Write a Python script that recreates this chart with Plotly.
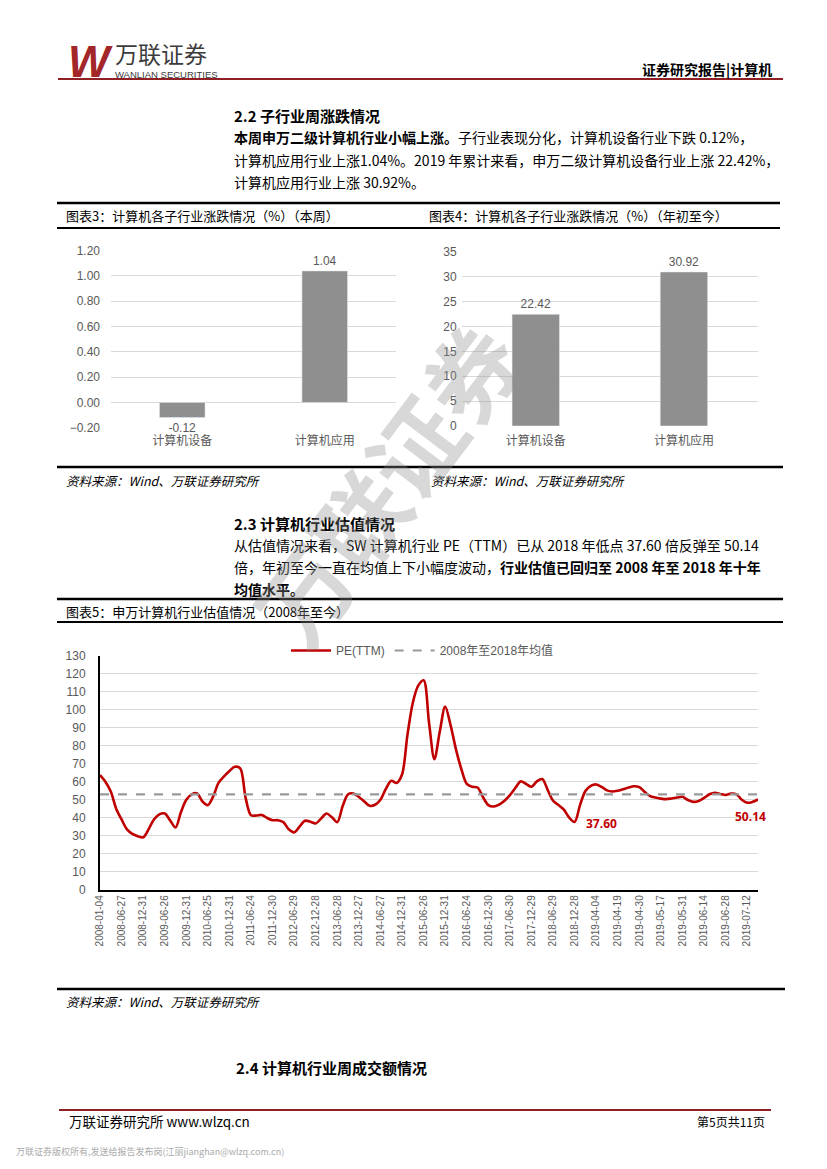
import plotly.graph_objects as go

W, H = 827, 1169
PAGE_OFFSET = 8   # the page body margin shifts the figure; positions below are page pixels

# ---------------- data ----------------
sub_industries = ["计算机设备", "计算机应用"]
weekly_change = [-0.12, 1.04]          # 图表3 本周 (%)
ytd_change = [22.42, 30.92]            # 图表4 年初至今 (%)

pe_tick_labels = [
    "2008-01-04", "2008-06-27", "2008-12-31", "2009-06-26", "2009-12-31",
    "2010-06-25", "2010-12-31", "2011-06-24", "2011-12-30", "2012-06-29",
    "2012-12-28", "2013-06-28", "2013-12-27", "2014-06-27", "2014-12-31",
    "2015-06-26", "2015-12-31", "2016-06-24", "2016-12-30", "2017-06-30",
    "2017-12-29", "2018-06-29", "2018-12-28", "2019-04-04", "2019-04-19",
    "2019-04-30", "2019-05-17", "2019-05-31", "2019-06-14", "2019-06-28",
    "2019-07-12",
]
samples_per_label = 4
pe_ttm = [
    63.7, 60, 54.5, 45, 39, 33.5, 31, 29.7, 29, 33.5, 39, 41.8,
    42.3, 38.5, 34.5, 43, 50, 53, 53.5, 49, 47, 52, 59.5, 63,
    66, 68.3, 67.5, 51, 41.3, 41.2, 41.5, 39.8, 38.6, 38.6, 37.5, 33.5,
    31.8, 35, 38.3, 37.7, 36.8, 39.5, 42.3, 40.2, 37.5, 46.5, 53, 53.5,
    51.5, 49, 46.6, 47.2, 50, 56, 60.5, 59.3, 64, 86, 104, 113.5,
    116.5, 93, 72.5, 88, 101.8, 91.5, 78, 67, 58.8, 57.2, 56.8, 51.5,
    47, 46.2, 47.3, 49.4, 52.5, 56.5, 60.2, 58.8, 57.2, 60.2, 61.5, 55.5,
    49.5, 47, 44.5, 40, 37.6, 47, 54.8, 57.7, 58.5, 57.1, 55.2, 54.6,
    55, 55.8, 56.8, 57.5, 57, 54.3, 52, 51.2, 50.6, 50.3, 50.7, 51.2,
    51.6, 49.8, 48.8, 49.3, 51, 53, 53.9, 53.2, 52.6, 53.4, 53, 50,
    48.3, 48.8, 50.14,
]
pe_mean_2008_2018 = 53.0
pe_low_2018 = 37.6
pe_latest = 50.14

# ---------------- helpers ----------------
def px(x):
    return (x - PAGE_OFFSET) / W

def py(y):
    return 1 - (y - PAGE_OFFSET) / H

CJK = "Noto Sans CJK SC"
CHART_FONT = "Liberation Sans, Noto Sans CJK SC"
GRAY_TXT = "#595959"
GRID = "#D9D9D9"
BAR = "#8F8F8F"
RED = "#C00000"

fig = go.Figure()

# ---------- 图表3 ----------
fig.add_trace(go.Bar(
    x=sub_industries, y=weekly_change, marker_color=BAR,
    texttemplate="%{y:.2f}", textposition="outside", cliponaxis=False,
    textfont=dict(size=12, color=GRAY_TXT, family=CHART_FONT),
    xaxis="x", yaxis="y", showlegend=False,
))
# ---------- 图表4 ----------
fig.add_trace(go.Bar(
    x=sub_industries, y=ytd_change, marker_color=BAR,
    texttemplate="%{y:.2f}", textposition="outside", cliponaxis=False,
    textfont=dict(size=12, color=GRAY_TXT, family=CHART_FONT),
    xaxis="x2", yaxis="y2", showlegend=False,
))
# ---------- 图表5 ----------
pe_x = [i / samples_per_label for i in range(len(pe_ttm))]
fig.add_trace(go.Scatter(
    x=pe_x, y=pe_ttm, mode="lines", name="PE(TTM)",
    line=dict(color=RED, width=2.6, shape="spline", smoothing=0.9),
    xaxis="x3", yaxis="y3",
))
fig.add_trace(go.Scatter(
    x=[pe_x[0], pe_x[-1]], y=[pe_mean_2008_2018, pe_mean_2008_2018],
    mode="lines", name="2008年至2018年均值",
    line=dict(color="#999999", width=2.2, dash="dash"),
    xaxis="x3", yaxis="y3",
))

low_i = max(i for i, v in enumerate(pe_ttm) if v == pe_low_2018)
annotations = [
    dict(x=pe_x[low_i], y=pe_low_2018, xref="x3", yref="y3", text="<b>%.2f</b>" % pe_low_2018,
         showarrow=False, xshift=27, yshift=-2,
         font=dict(size=12, color=RED, family="Open Sans")),
    dict(x=pe_x[-1], y=pe_latest, xref="x3", yref="y3", text="<b>%.2f</b>" % pe_latest,
         showarrow=False, xshift=-8, yshift=-17,
         font=dict(size=12, color=RED, family="Open Sans")),
]

def txt(x, y, s, size=14, color="#000000", anchor="left", family=CJK, angle=0):
    annotations.append(dict(
        x=px(x), y=py(y), xref="paper", yref="paper", text=s, showarrow=False,
        xanchor=anchor, yanchor="middle", textangle=angle, borderpad=0,
        font=dict(size=size, color=color, family=family),
    ))

# header
txt(67, 61, "<b><i>W</i></b>", size=44, color="#A3262A", family="Liberation Sans")
txt(114, 53, "万联证券", size=23, color="#3C3C3C")
txt(114, 75, "WANLIAN SECURITIES", size=9.5, color="#3C3C3C", family="Liberation Sans")
txt(773, 69, "<b>证券研究报告|计算机</b>", size=14, anchor="right")

# section 2.2
txt(233, 116, "<b>2.2 子行业周涨跌情况</b>", size=15)
txt(233, 137, "<b>本周申万二级计算机行业小幅上涨。</b>子行业表现分化，计算机设备行业下跌 0.12%，")
txt(233, 160, "计算机应用行业上涨1.04%。2019 年累计来看，申万二级计算机设备行业上涨 22.42%，")
txt(233, 182, "计算机应用行业上涨 30.92%。")

# chart titles 3/4
txt(65, 215, "图表3：计算机各子行业涨跌情况（%）（本周）", size=13)
txt(428, 215, "图表4：计算机各子行业涨跌情况（%）（年初至今）", size=13)
txt(65, 480, "<i>资料来源：Wind、万联证券研究所</i>", size=12.5)
txt(430, 480, "<i>资料来源：Wind、万联证券研究所</i>", size=12.5)

# section 2.3
txt(233, 523, "<b>2.3 计算机行业估值情况</b>", size=15)
txt(233, 545, "从估值情况来看，SW 计算机行业 PE（TTM）已从 2018 年低点 37.60 倍反弹至 50.14")
txt(233, 567, "倍，年初至今一直在均值上下小幅度波动，<b>行业估值已回归至 2008 年至 2018 年十年</b>")
txt(233, 589, "<b>均值水平。</b>")

txt(65, 611, "图表5：申万计算机行业估值情况（2008年至今）", size=13)
txt(65, 1001, "<i>资料来源：Wind、万联证券研究所</i>", size=12.5)

# section 2.4
txt(235, 1067, "<b>2.4 计算机行业周成交额情况</b>", size=15)

# footer
txt(68, 1121, "万联证券研究所 www.wlzq.cn", size=13.5)
txt(766, 1121, "第5页共11页", size=12, anchor="right")
txt(15, 1151, "万联证券版权所有,发送给报告发布岗(江丽jianghan@wlzq.com.cn)", size=9, color="#AAAAAA")

# watermark
txt(385, 482, "<b>万联证券</b>", size=92, color="rgba(140,140,140,0.34)", anchor="center", angle=-53)

# ---------------- shapes (rules) ----------------
shapes = []

def hline(y, x0, x1, color="#000000", width=2.5):
    shapes.append(dict(type="line", xref="paper", yref="paper",
                       x0=px(x0), x1=px(x1), y0=py(y), y1=py(y),
                       line=dict(color=color, width=width)))

hline(79, 58, 783, color="#8E1F22", width=2.2)
hline(203, 57, 780, width=2.5)
hline(228, 57, 780, width=2)
hline(467, 57, 783, width=2.5)
hline(599, 57, 783, width=2.5)
hline(622, 57, 783, width=2)
hline(989, 57, 785, width=2.5)
hline(1110, 59, 771, color="#8E1F22", width=2.2)

# ---------------- layout ----------------
tf = dict(size=12, color=GRAY_TXT, family=CHART_FONT)
fig.update_layout(
    width=W, height=H, margin=dict(l=0, r=0, t=0, b=0, pad=0, autoexpand=False),
    paper_bgcolor="white", plot_bgcolor="white",
    font=dict(family=CHART_FONT, color=GRAY_TXT),
    bargap=0.68,
    annotations=annotations, shapes=shapes,
    legend=dict(orientation="h", x=px(286), y=py(636), xanchor="left", yanchor="top",
                font=dict(size=12, color=GRAY_TXT, family=CHART_FONT),
                bgcolor="rgba(0,0,0,0)", itemwidth=40),
    xaxis=dict(domain=[px(111), px(396)], showgrid=False, showline=False, ticks="",
               tickfont=tf, ticklabelstandoff=4, automargin=False),
    yaxis=dict(domain=[py(427.7), py(250.7)], range=[-0.2, 1.2], dtick=0.2, tick0=0,
               tickformat=".2f", showgrid=True, gridcolor=GRID, gridwidth=1,
               zeroline=False, showline=False, ticks="", ticklabelstandoff=10,
               tickfont=tf, automargin=False),
    xaxis2=dict(domain=[px(461.7), px(758)], showgrid=False, showline=False, ticks="",
                tickfont=tf, ticklabelstandoff=6, anchor="y2", automargin=False),
    yaxis2=dict(domain=[py(426), py(251.7)], range=[0, 35], dtick=5,
                showgrid=True, gridcolor=GRID, gridwidth=1, anchor="x2",
                zeroline=False, showline=False, ticks="", ticklabelstandoff=4,
                tickfont=tf, automargin=False),
    xaxis3=dict(domain=[px(100), px(758)], range=[0, pe_x[-1]], anchor="y3",
                tickmode="array", tickvals=list(range(len(pe_tick_labels))),
                ticktext=pe_tick_labels, tickangle=-90,
                tickfont=dict(size=10, color=GRAY_TXT, family=CHART_FONT),
                showgrid=False, showline=True, linecolor="#000000", linewidth=1.5,
                zeroline=False, ticks="", automargin=False),
    yaxis3=dict(domain=[py(889.5), py(656)], range=[0, 130], dtick=10, anchor="x3",
                showgrid=True, gridcolor=GRID, gridwidth=1,
                showline=True, linecolor="#000000", linewidth=2,
                zeroline=False, ticks="", ticklabelstandoff=10,
                tickfont=tf, automargin=False),
)

fig.write_html("out.html")
